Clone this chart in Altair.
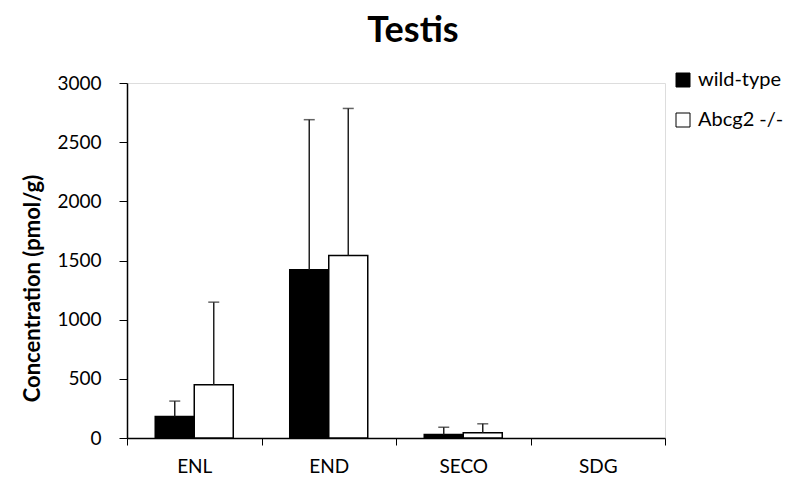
import altair as alt
import pandas as pd

categories = ["ENL", "END", "SECO", "SDG"]
groups = ["wild-type", "Abcg2 -/-"]
wild_type = [182, 1422, 30, 0]
wild_type_err = [130, 1268, 61, 0]
knockout = [450, 1543, 44, 0]
knockout_err = [698, 1242, 76, 0]

rows = []
for i, c in enumerate(categories):
    rows.append({"cat": c, "group": groups[0], "value": wild_type[i],
                 "upper": wild_type[i] + wild_type_err[i], "err": wild_type_err[i]})
    rows.append({"cat": c, "group": groups[1], "value": knockout[i],
                 "upper": knockout[i] + knockout_err[i], "err": knockout_err[i]})
df = pd.DataFrame(rows)

FONT = "Lato"

x_enc = alt.X("cat:N", sort=categories, title=None,
              scale=alt.Scale(domain=categories, paddingInner=0, paddingOuter=0),
              axis=alt.Axis(tickBand="extent", labelAngle=0, labelFontSize=19,
                            labelFont=FONT, labelColor="#000", labelPadding=12,
                            tickSize=7, tickColor="#000", domainColor="#000",
                            domainWidth=1.5, tickWidth=1, grid=False))
xoff = alt.XOffset("group:N", sort=groups,
                   scale=alt.Scale(domain=groups, paddingInner=0, paddingOuter=0.724))

bars = alt.Chart(df).mark_bar(stroke="black", strokeWidth=1.5).encode(
    x=x_enc,
    xOffset=xoff,
    y=alt.Y("value:Q", title="Concentration (pmol/g)",
            scale=alt.Scale(domain=[0, 3000], nice=False),
            axis=alt.Axis(values=[0, 500, 1000, 1500, 2000, 2500, 3000],
                          format="d",
                          grid=False, tickSize=8, tickColor="#000",
                          domainColor="#000", domainWidth=1.5,
                          labelFontSize=19, labelFont=FONT, labelColor="#000",
                          labelPadding=18, titleFont=FONT, titleFontSize=22,
                          titleFontWeight="bold", titleColor="#000",
                          titleX=-95, titleY=205, titleAngle=270,
                          titleAlign="center", titleBaseline="middle")),
    fill=alt.Fill("group:N", sort=groups,
                  scale=alt.Scale(domain=groups, range=["#000000", "#ffffff"]),
                  legend=alt.Legend(title=None, orient="none", legendX=546,
                                    legendY=-13, symbolType="square",
                                    symbolSize=196, symbolStrokeColor="#000",
                                    symbolStrokeWidth=1, labelFontSize=20,
                                    labelFont=FONT, labelColor="#000",
                                    rowPadding=20, labelOffset=5)),
).transform_filter(alt.datum.value > 0)

err_df = df[df["err"] > 0]
rules = alt.Chart(err_df).mark_rule(color="#222", strokeWidth=1.5).encode(
    x=alt.X("cat:N", sort=categories),
    xOffset=xoff,
    y="value:Q",
    y2="upper:Q",
)
caps = alt.Chart(err_df).mark_tick(color="#222", thickness=1.5, size=11,
                                   orient="horizontal").encode(
    x=alt.X("cat:N", sort=categories),
    xOffset=xoff,
    y="upper:Q",
)

chart = alt.layer(bars, rules, caps).properties(
    width=538, height=355,
    title=alt.TitleParams("Testis", font=FONT, fontSize=36, fontWeight="bold",
                          color="#000", anchor="middle", offset=20, dx=17),
    autosize=alt.AutoSizeParams(type="none"),
    padding={"left": 127, "top": 83, "right": 129, "bottom": 46},
).configure_view(strokeWidth=0).configure(background="white")

chart.save("out.html", embed_options={"renderer": "svg", "actions": False})
